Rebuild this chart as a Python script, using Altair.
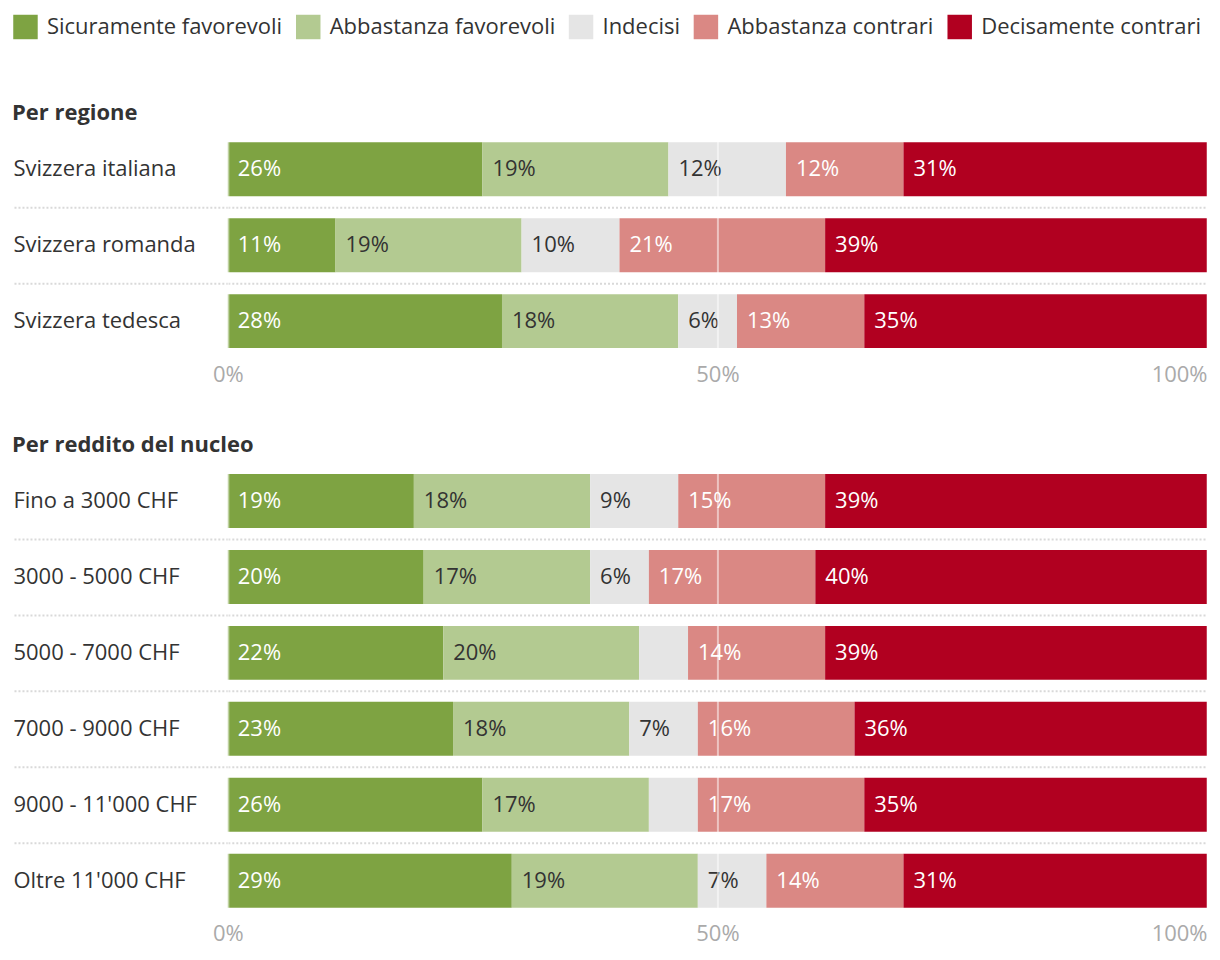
import altair as alt
import pandas as pd

FONT = "Open Sans"
FS = 22

categories = ["Sicuramente favorevoli", "Abbastanza favorevoli", "Indecisi",
              "Abbastanza contrari", "Decisamente contrari"]
colors = ["#7ea342", "#b3ca91", "#e5e5e5", "#da8884", "#b10020"]
text_colors = ["#ffffff", "#333333", "#333333", "#ffffff", "#ffffff"]

regions = ["Svizzera italiana", "Svizzera romanda", "Svizzera tedesca"]
reg_sicuramente = [26, 11, 28]
reg_abb_fav = [19, 19, 18]
reg_indecisi = [12, 10, 6]
reg_abb_con = [12, 21, 13]
reg_decisamente = [31, 39, 35]

incomes = ["Fino a 3000 CHF", "3000 - 5000 CHF", "5000 - 7000 CHF",
           "7000 - 9000 CHF", "9000 - 11'000 CHF", "Oltre 11'000 CHF"]
inc_sicuramente = [19, 20, 22, 23, 26, 29]
inc_abb_fav = [18, 17, 20, 18, 17, 19]
inc_indecisi = [9, 6, 5, 7, 5, 7]
inc_abb_con = [15, 17, 14, 16, 17, 14]
inc_decisamente = [39, 40, 39, 36, 35, 31]


def build(rows, series):
    recs = []
    for i, r in enumerate(rows):
        for k, cat in enumerate(categories):
            recs.append({"row": r, "cat": cat, "ord": k, "value": series[k][i],
                         "tcolor": text_colors[k]})
    return pd.DataFrame(recs)


df_reg = build(regions, [reg_sicuramente, reg_abb_fav, reg_indecisi, reg_abb_con, reg_decisamente])
df_inc = build(incomes, [inc_sicuramente, inc_abb_fav, inc_indecisi, inc_abb_con, inc_decisamente])

STEP = 76
BAND = 54 / 76

cond_visible = {"condition": {"test": "datum.index > 0", "value": 1}, "value": 0}


def panel(df, rows, title, with_legend):
    base = alt.Chart(df).transform_stack(
        stack="value", groupby=["row"], as_=["x0", "x1"],
        sort=[alt.SortField("ord", order="ascending")]
    )
    y = alt.Y("row:N", sort=rows,
              scale=alt.Scale(paddingInner=0, paddingOuter=0),
              axis=alt.Axis(title=None, domain=False, labelAlign="left",
                            labelFont=FONT, labelFontSize=FS, labelColor="#333333",
                            labelPadding=0, tickSize=215, ticks=True,
                            bandPosition=0, tickColor="#d9d9d9", tickWidth=2,
                            tickDash=[2, 2], tickOpacity=cond_visible,
                            grid=True, gridColor="#d9d9d9", gridWidth=2,
                            gridDash=[2, 2], gridOpacity=cond_visible,
                            labelLimit=300))
    x = alt.X("x0:Q", scale=alt.Scale(domain=[0, 100], nice=False),
              axis=alt.Axis(title=None, values=[0, 50, 100], labelExpr="datum.value + '%'",
                            domain=False, ticks=False, labelFont=FONT, labelFontSize=FS,
                            labelColor="#aaaaaa", labelPadding=5,
                            labelAlign={"condition": {"test": "datum.value == 100", "value": "right"},
                                        "value": "center"},
                            grid=True, gridColor="#ffffff", gridOpacity=0.5, gridWidth=2,
                            zindex=1))
    if with_legend:
        leg = alt.Legend(title=None, orient="none", legendX=-215, legendY=-117,
                         direction="horizontal", columns=5,
                         symbolType="square", symbolSize=600,
                         symbolStrokeWidth=0, labelFont=FONT,
                         labelFontSize=FS, labelColor="#333333",
                         labelOffset=9, columnPadding=13, labelLimit=400)
    else:
        leg = None
    bars = base.mark_bar(height=alt.RelativeBandSize(BAND)).encode(
        y=y, x=x, x2="x1:Q",
        color=alt.Color("cat:N", scale=alt.Scale(domain=categories, range=colors), legend=leg),
        order=alt.Order("ord:Q"),
    )
    labels = base.transform_filter("datum.value >= 6").transform_calculate(
        label="datum.value + '%'"
    ).mark_text(
        align="left", baseline="middle", dx=10, font=FONT, fontSize=FS
    ).encode(
        y=y,
        x=x,
        text=alt.Text("label:N"),
        color=alt.Color("tcolor:N", scale=None),
    )
    return alt.layer(bars, labels).properties(
        width=980, height=alt.Step(STEP),
        title=alt.TitleParams(title, anchor="start", font=FONT, fontSize=FS,
                              fontWeight="bold", color="#333333", offset=6),
    )


top = panel(df_reg, regions, "Per regione", True)
bottom = panel(df_inc, incomes, "Per reddito del nucleo", False)

chart = alt.vconcat(top, bottom, spacing=49).properties(
    padding={"left": 12, "top": 14, "right": 13, "bottom": 8}
).configure(font=FONT).configure_view(stroke=None, strokeWidth=0)

chart.save("out.html", embed_options={"renderer": "svg", "actions": False})
